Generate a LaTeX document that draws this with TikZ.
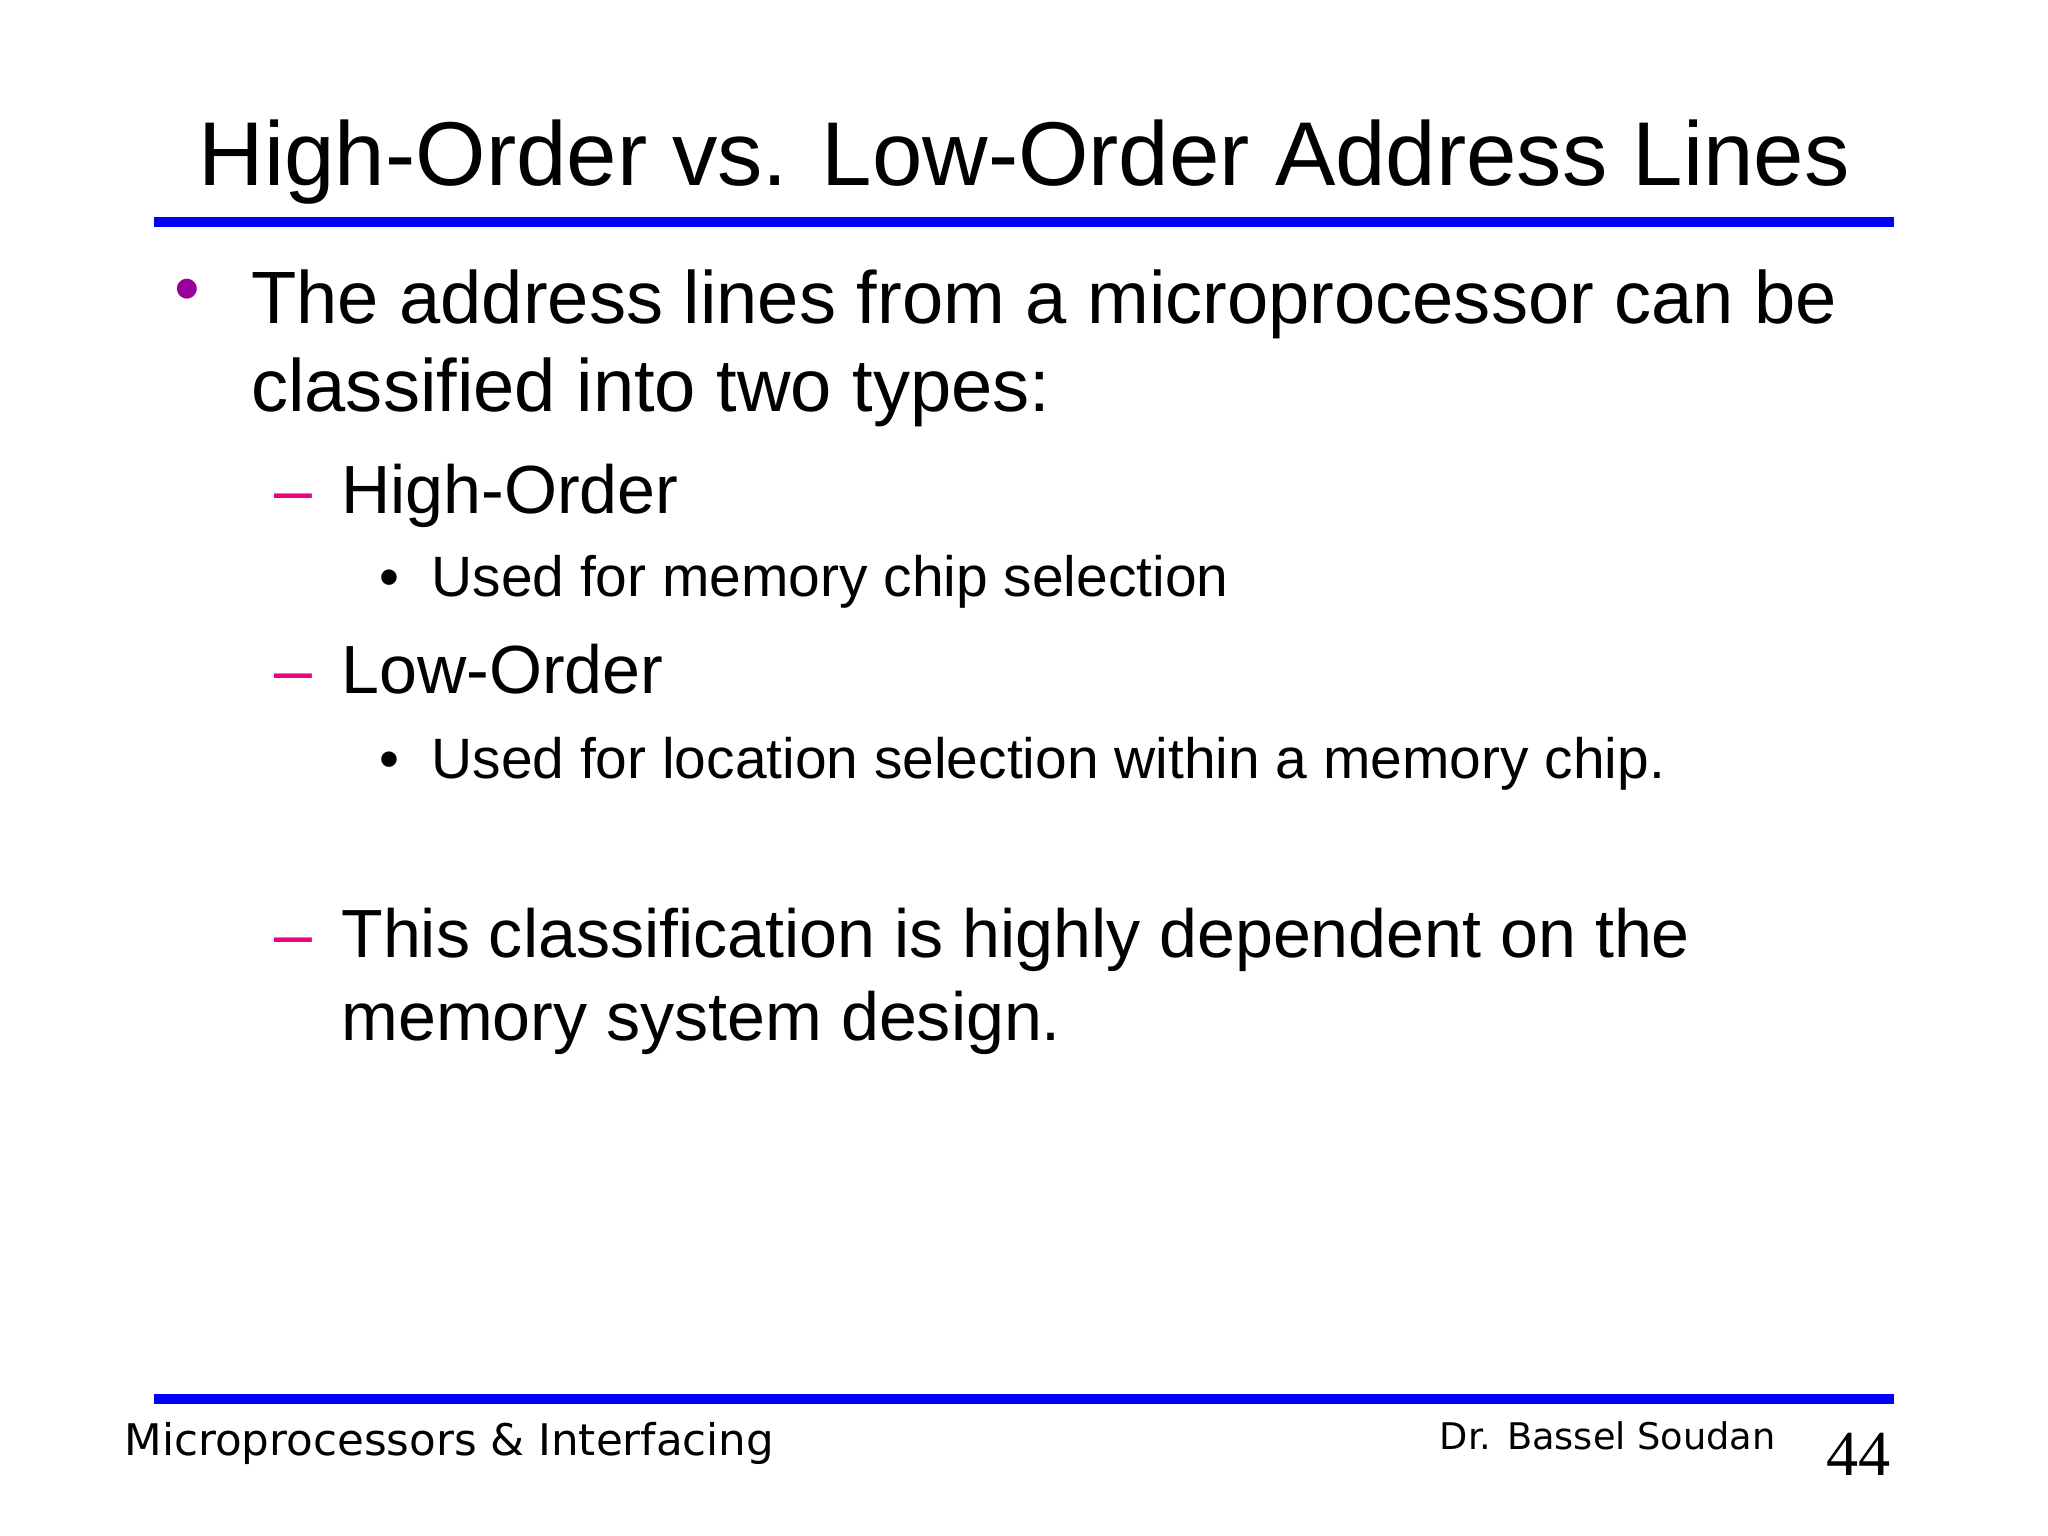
\documentclass[tikz,border=0pt]{standalone}
\usepackage{fontspec}
\setmainfont{Liberation Sans}
\newfontfamily\footfont{DejaVu Sans}
\newfontfamily\numfont{Liberation Serif}
\begin{document}
\begin{tikzpicture}[x=0.02cm,y=-0.02cm,
  txt/.style={anchor=base west,inner sep=0pt},
  bar/.style={draw=blue,line width=0.16cm}]
\useasboundingbox (0,0) rectangle (1568,1176);
\node[txt,font=\fontsize{39.5}{48}\selectfont] (title) at (152,142) {High-Order vs. Low-Order Address Lines};
\draw[bar] (118,170) -- (1450,170);
\draw[bar] (118,1071) -- (1450,1071);
\node[txt,text=violet!80!magenta,font=\fontsize{32}{38}\selectfont] (b0) at (133,240) {•};
\node[txt,font=\fontsize{32.3}{38}\selectfont] (l1) at (192,248) {The address lines from a microprocessor can be};
\node[txt,font=\fontsize{32.3}{38}\selectfont] (l2) at (192,315) {classified into two types:};
\node[txt,text=magenta!90!red,font=\fontsize{29.7}{36}\selectfont] (d1) at (210,393) {–};
\node[txt,font=\fontsize{29.7}{36}\selectfont] (l3) at (261,393) {High-Order};
\node[txt,font=\fontsize{24.8}{30}\selectfont] (s1) at (290,457) {•};
\node[txt,font=\fontsize{24.8}{30}\selectfont] (l4) at (330,457) {Used for memory chip selection};
\node[txt,text=magenta!90!red,font=\fontsize{29.7}{36}\selectfont] (d2) at (210,531) {–};
\node[txt,font=\fontsize{29.7}{36}\selectfont] (l5) at (261,531) {Low-Order};
\node[txt,font=\fontsize{24.8}{30}\selectfont] (s2) at (290,596) {•};
\node[txt,font=\fontsize{24.8}{30}\selectfont] (l6) at (330,596) {Used for location selection within a memory chip.};
\node[txt,text=magenta!90!red,font=\fontsize{29.7}{36}\selectfont] (d3) at (210,733) {–};
\node[txt,font=\fontsize{29.7}{36}\selectfont] (l7) at (261,733) {This classification is highly dependent on the};
\node[txt,font=\fontsize{29.7}{36}\selectfont] (l8) at (261,797) {memory system design.};
\node[txt,font=\footfont\fontsize{19}{22}\selectfont] (f1) at (95,1114) {Microprocessors \& Interfacing};
\node[txt,font=\footfont\fontsize{16}{20}\selectfont] (f2) at (1102,1110) {Dr. Bassel Soudan};
\node[txt,font=\numfont\fontsize{28}{32}\selectfont] (f3) at (1398,1130) {44};
\end{tikzpicture}
\end{document}
